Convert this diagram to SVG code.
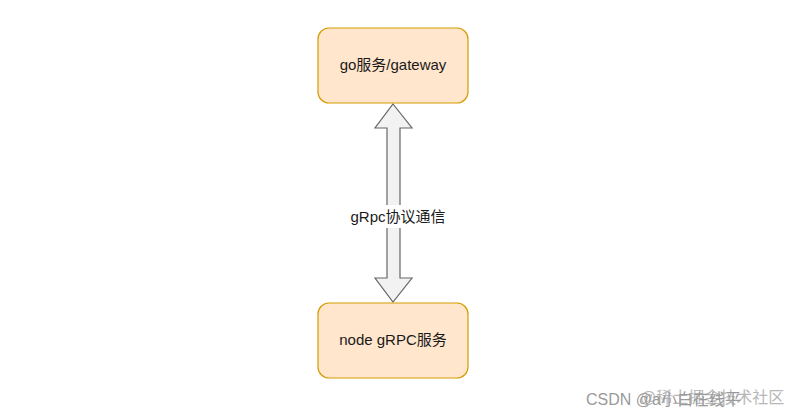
<svg xmlns="http://www.w3.org/2000/svg" width="799" height="414" viewBox="0 0 799 414">
<style>
.box{fill:#ffe6cc;stroke:#d79b00;stroke-width:1.2}
.t{font-family:"Liberation Sans","Noto Sans CJK SC",sans-serif;font-size:15px;fill:#1a1a1a;text-anchor:middle}
.wm{font-family:"Liberation Sans","Noto Sans CJK SC",sans-serif;font-size:16px;fill:#9a9a9a}
</style>
<rect width="799" height="414" fill="#fff"/>
<g id="connectors">
<path d="M393,104 L412,128 L400,128 L400,278 L412,278 L393,302 L375,278 L387,278 L387,128 L375,128 Z" fill="#f2f2f2" stroke="#666" stroke-width="1.2"/>
<rect x="349" y="205" width="100" height="23" fill="#fff"/>
<text class="t" x="398" y="222">gRpc协议通信</text>
</g>
<g id="gateway">
<rect class="box" x="318" y="28" width="150" height="75" rx="11"/>
<text class="t" x="393" y="70">go服务/gateway</text>
</g>
<g id="node">
<rect class="box" x="318" y="303" width="150" height="75" rx="11"/>
<text class="t" x="393" y="345">node gRPC服务</text>
</g>
<g id="watermark">
<text class="wm" x="586" y="405">CSDN @a小白在线平</text>
<text class="wm" x="640" y="403" opacity="0.7">@稀土掘金技术社区</text>
</g>
</svg>
